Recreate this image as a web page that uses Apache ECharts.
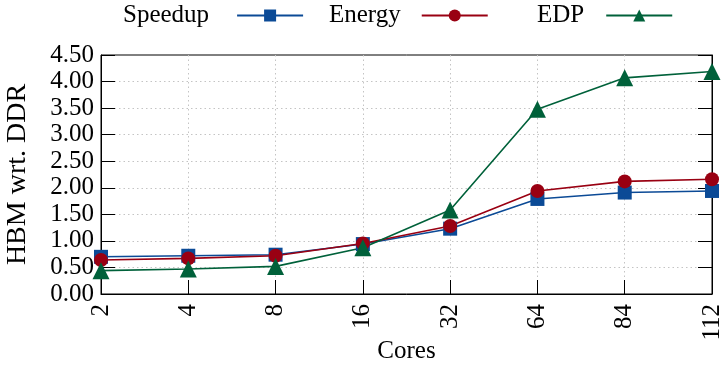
<!DOCTYPE html>
<html><head><meta charset="utf-8">
<script src="https://cdn.jsdelivr.net/npm/echarts@6/dist/echarts.min.js"></script>
<style>html,body{margin:0;padding:0;background:#fff}#c{width:726px;height:366px}</style>
</head><body><div id="c"></div>
<script>
var categories = ['2','4','8','16','32','64','84','112'];
var speedup = [0.70, 0.72, 0.74, 0.94, 1.23, 1.79, 1.91, 1.94];
var energy  = [0.64, 0.67, 0.72, 0.95, 1.28, 1.94, 2.12, 2.16];
var edp     = [0.44, 0.47, 0.52, 0.87, 1.58, 3.48, 4.07, 4.19];
var yTicks  = [0, 0.5, 1, 1.5, 2, 2.5, 3, 3.5, 4, 4.5];

var FONT = '"Liberation Serif", "DejaVu Serif", serif';
var chart = echarts.init(document.getElementById('c'), null, {renderer: 'canvas'});
var dotted = {show: true, showMinLine: false, showMaxLine: false,
  lineStyle: {color: '#c4c4c4', type: [1.5, 3], width: 1}};
function legend(name, left, padR) {
  return {data: [name], left: left, top: 3, padding: 0, align: 'right', itemWidth: 66, itemHeight: 15,
    textStyle: {fontFamily: FONT, fontSize: 25, color: '#000', padding: [0, padR, 0, 0]}, itemGap: 0};
}
chart.setOption({
  animation: false,
  legend: [legend('Speedup', 123, 23), legend('Energy', 329, 16), legend('EDP', 537, 17)],
  grid: {left: 101, right: 14, top: 55, bottom: 72, show: true, borderColor: '#000', borderWidth: 1,
    containLabel: false, outerBoundsMode: 'none'},
  xAxis: {
    type: 'category', data: categories, boundaryGap: false,
    name: 'Cores', nameLocation: 'middle', nameGap: 45, nameMoveOverlap: false,
    nameTextStyle: {fontFamily: FONT, fontSize: 25, color: '#000'},
    axisLine: {lineStyle: {color: '#000'}},
    axisTick: {inside: true, length: 14, lineStyle: {color: '#000'}, alignWithLabel: true},
    axisLabel: {rotate: 90, fontFamily: FONT, fontSize: 25, color: '#000', margin: 10},
    splitLine: dotted
  },
  yAxis: [{
    type: 'value', min: 0, max: 4.5, interval: 0.5,
    name: 'HBM wrt. DDR', nameLocation: 'middle', nameGap: 69, nameMoveOverlap: false,
    nameTextStyle: {fontFamily: FONT, fontSize: 28, color: '#000'},
    axisLine: {show: true, lineStyle: {color: '#000'}},
    axisTick: {show: true, inside: true, length: 14, lineStyle: {color: '#000'}},
    axisLabel: {fontFamily: FONT, fontSize: 25, color: '#000', margin: 7,
      formatter: function (v) { return yTicks.indexOf(v) >= 0 ? v.toFixed(2) : ''; }},
    splitLine: dotted
  }, {
    type: 'value', min: 0, max: 4.5, interval: 0.5, position: 'right',
    axisLine: {show: true, lineStyle: {color: '#000'}},
    axisTick: {show: true, inside: true, length: 14, lineStyle: {color: '#000'}},
    axisLabel: {show: false}, splitLine: {show: false}
  }],
  series: [{
    name: 'Speedup', type: 'line', data: speedup, symbol: 'rect', symbolSize: 14,
    itemStyle: {color: '#0b4a96'}, lineStyle: {color: '#0b4a96', width: 1.6}
  }, {
    name: 'Energy', type: 'line', data: energy, symbol: 'circle', symbolSize: 14,
    itemStyle: {color: '#990012'}, lineStyle: {color: '#990012', width: 1.6}
  }, {
    name: 'EDP', type: 'line', data: edp, symbol: 'triangle', symbolSize: 17,
    itemStyle: {color: '#00613a'}, lineStyle: {color: '#00613a', width: 1.6}
  }]
});
</script></body></html>
